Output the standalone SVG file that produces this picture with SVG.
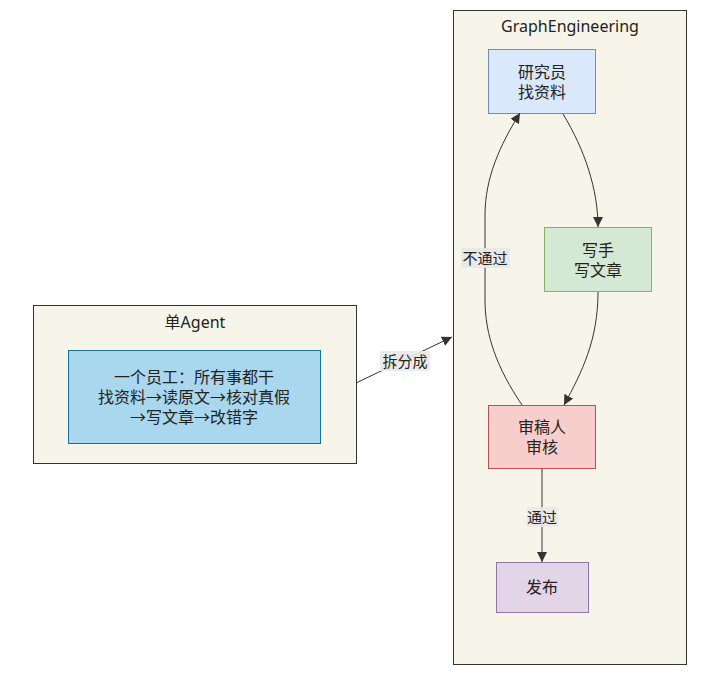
<svg xmlns="http://www.w3.org/2000/svg" width="705" height="682" viewBox="0 0 705 682">
<style>
text{font-family:"Noto Sans","Noto Sans CJK SC",sans-serif;font-size:16px;fill:#222;text-anchor:middle;dominant-baseline:central}
.cl{fill:#f7f5ea;stroke:#333;stroke-width:1}
.e{fill:none;stroke:#333;stroke-width:1}
.lb{fill:#e8e8e8;opacity:0.9}
.lt{font-size:15px}
</style>
<defs>
<marker id="ah" viewBox="0 0 10 10" refX="10" refY="5" markerWidth="10" markerHeight="10" markerUnits="userSpaceOnUse" orient="auto">
<path d="M0,0 L10,5 L0,10 z" fill="#333"/>
</marker>
</defs>
<g id="cluster-single">
<rect class="cl" x="33.5" y="305.5" width="323" height="158"/>
<text x="195" y="322">单Agent</text>
</g>
<g id="cluster-graph">
<rect class="cl" x="453.5" y="10.5" width="233" height="654"/>
<text x="570" y="26">GraphEngineering</text>
</g>
<g id="node-worker">
<rect x="68.5" y="350.5" width="252" height="93" fill="#a9d7ed" stroke="#10739e"/>
<text x="194" y="377">一个员工：所有事都干</text>
<text x="194" y="397">找资料→读原文→核对真假</text>
<text x="194" y="417">→写文章→改错字</text>
</g>
<g id="node-researcher">
<rect x="488.5" y="49.5" width="107" height="64" fill="#dae8fc" stroke="#6c8ebf"/>
<text x="542" y="72">研究员</text>
<text x="542" y="92">找资料</text>
</g>
<g id="node-writer">
<rect x="544.5" y="227.5" width="107" height="64" fill="#d5e8d4" stroke="#82b366"/>
<text x="598" y="250">写手</text>
<text x="598" y="270">写文章</text>
</g>
<g id="node-reviewer">
<rect x="488.5" y="405.5" width="107" height="63" fill="#f8cecc" stroke="#b85450"/>
<text x="542" y="427">审稿人</text>
<text x="542" y="447">审核</text>
</g>
<g id="node-publish">
<rect x="496.5" y="562.5" width="92" height="50" fill="#e1d5e7" stroke="#9673a6"/>
<text x="542" y="587">发布</text>
</g>
<g id="connectors">
<path class="e" d="M356,383 L452,337" marker-end="url(#ah)"/>
<rect class="lb" x="380" y="351" width="50" height="20"/>
<text class="lt" x="405" y="361">拆分成</text>
<path class="e" d="M563,114 C585,150 598,190 598,227" marker-end="url(#ah)"/>
<path class="e" d="M598,292 C598,340 582,372 564,405" marker-end="url(#ah)"/>
<path class="e" d="M522,405 C497,368 485,335 485,300 L485,215 C485,178 500,145 520,113" marker-end="url(#ah)"/>
<rect class="lb" x="461" y="248" width="49" height="20"/>
<text class="lt" x="485" y="258">不通过</text>
<path class="e" d="M542,469 L542,562" marker-end="url(#ah)"/>
<rect class="lb" x="527" y="507" width="31" height="20"/>
<text class="lt" x="542" y="517">通过</text>
</g>
</svg>
